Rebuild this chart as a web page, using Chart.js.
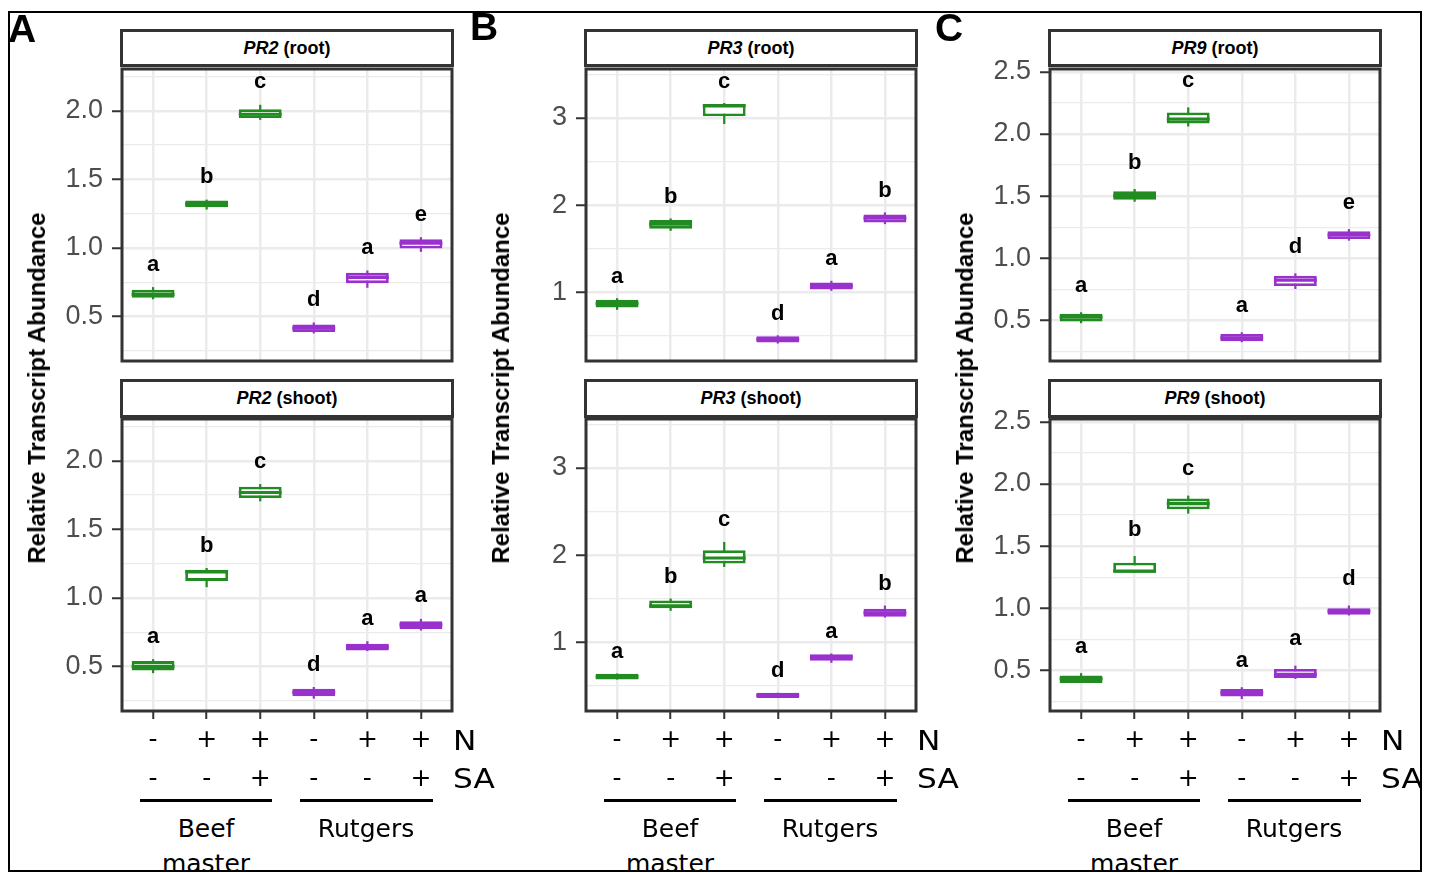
<!DOCTYPE html>
<html>
<head>
<meta charset="utf-8">
<script src="https://cdn.jsdelivr.net/npm/chart.js@4.4.1/dist/chart.umd.min.js"></script>
<style>
  html, body { margin: 0; padding: 0; background: #fff; }
  body { width: 1432px; height: 873px; position: relative; overflow: hidden; font-family: "Liberation Sans", Arial, sans-serif; }
  #fig { position: absolute; left: 0; top: 0; width: 1432px; height: 873px; clip-path: inset(13px 12px 3px 10px); }
  #frame { position: absolute; left: 8px; top: 11px; width: 1414px; height: 861px; border: 2px solid #000; box-sizing: border-box; pointer-events: none; }
  canvas { position: absolute; }
  .strip { position: absolute; box-sizing: border-box; border: 3px solid #333; background: #fff; font-weight: bold; font-size: 18px; text-align: center; color: #000; }
  .letter { position: absolute; font: bold 39px "Liberation Sans", Arial, sans-serif; line-height: 1; }
  .ytitle { position: absolute; font: bold 24px "Liberation Sans", Arial, sans-serif; line-height: 1; white-space: nowrap; transform: translate(-50%, -50%) rotate(-90deg); }
  .ann { position: absolute; font-family: "DejaVu Sans", sans-serif; font-size: 25px; line-height: 1; color: #000; white-space: nowrap; }
  .ctr { transform: translate(-50%, -50%); }
  .lft { transform-origin: 0 50%; transform: translate(0, -50%) scaleX(1.2); font-size: 26px; }
  .rule { position: absolute; height: 3px; background: #000; }
</style>
</head>
<body>
<div id="fig"></div>
<div id="frame"></div>
<script>
// ===============================
// DATA
// ===============================

// treatment levels under each box
const treatmentN  = ["-", "+", "+", "-", "+", "+"];
const treatmentSA = ["-", "-", "+", "-", "-", "+"];

// each row: [lower whisker, Q1, median, Q3, upper whisker]
const pr2Root = [
  [0.625, 0.636, 0.66, 0.694, 0.714],
  [1.28, 1.296, 1.32, 1.345, 1.352],
  [1.934, 1.947, 1.975, 2.012, 2.044],
  [0.376, 0.386, 0.415, 0.442, 0.456],
  [0.709, 0.743, 0.785, 0.818, 0.835],
  [0.971, 0.995, 1.035, 1.063, 1.078]
];
const pr2RootLetters = ["a", "b", "c", "d", "a", "e"];

const pr2Shoot = [
  [0.451, 0.471, 0.50, 0.539, 0.553],
  [1.078, 1.124, 1.19, 1.206, 1.218],
  [1.704, 1.728, 1.769, 1.811, 1.83],
  [0.265, 0.282, 0.311, 0.337, 0.35],
  [0.612, 0.617, 0.641, 0.665, 0.684],
  [0.762, 0.774, 0.803, 0.83, 0.847]
];
const pr2ShootLetters = ["a", "b", "c", "d", "a", "a"];

const pr3Root = [
  [0.801, 0.828, 0.874, 0.916, 0.935],
  [1.707, 1.73, 1.784, 1.83, 1.849],
  [2.931, 3.019, 3.14, 3.161, 3.172],
  [0.415, 0.426, 0.465, 0.499, 0.51],
  [1.019, 1.034, 1.076, 1.115, 1.134],
  [1.784, 1.803, 1.853, 1.895, 1.918]
];
const pr3RootLetters = ["a", "b", "c", "d", "a", "b"];

const pr3Shoot = [
  [0.576, 0.576, 0.607, 0.641, 0.645],
  [1.363, 1.393, 1.42, 1.481, 1.504],
  [1.866, 1.905, 1.969, 2.057, 2.153],
  [0.363, 0.363, 0.393, 0.424, 0.424],
  [0.767, 0.792, 0.836, 0.866, 0.874],
  [1.286, 1.294, 1.34, 1.386, 1.424]
];
const pr3ShootLetters = ["a", "b", "c", "d", "a", "b"];

const pr9Root = [
  [0.479, 0.492, 0.528, 0.554, 0.567],
  [1.456, 1.472, 1.505, 1.539, 1.558],
  [2.061, 2.085, 2.12, 2.173, 2.214],
  [0.326, 0.334, 0.361, 0.393, 0.406],
  [0.754, 0.778, 0.825, 0.861, 0.88],
  [1.143, 1.156, 1.188, 1.218, 1.236]
];
const pr9RootLetters = ["a", "b", "c", "a", "d", "e"];

const pr9Shoot = [
  [0.401, 0.401, 0.433, 0.46, 0.479],
  [1.287, 1.287, 1.30, 1.367, 1.421],
  [1.762, 1.797, 1.842, 1.883, 1.907],
  [0.272, 0.291, 0.323, 0.352, 0.366],
  [0.433, 0.441, 0.47, 0.513, 0.54],
  [0.943, 0.948, 0.978, 1.002, 1.023]
];
const pr9ShootLetters = ["a", "b", "c", "a", "a", "d"];

// y axis ticks
const pr2Major = [0.5, 1.0, 1.5, 2.0];
const pr2Minor = [0.25, 0.75, 1.25, 1.75, 2.25];
const pr3Major = [1, 2, 3];
const pr3Minor = [0.5, 1.5, 2.5, 3.5];
const pr9Major = [0.5, 1.0, 1.5, 2.0, 2.5];
const pr9Minor = [0.25, 0.75, 1.25, 1.75, 2.25];

const boxColors = ["#228b22", "#228b22", "#228b22", "#9932cc", "#9932cc", "#9932cc"];
const groups = [["Beef", "master"], ["Rutgers"]];

// ===============================
// LAYOUT
// ===============================
const fig = document.getElementById("fig");
const PLOT_W = 330, PLOT_H = 292;
const rowTops = [69, 419];

const columns = [
  { tag: "A", gene: "PR2", left: 122, yMin: 0.175, yMax: 2.305, major: pr2Major, minor: pr2Minor, digits: 1, gap: 16.5,
    root: pr2Root, rootLetters: pr2RootLetters, shoot: pr2Shoot, shootLetters: pr2ShootLetters },
  { tag: "B", gene: "PR3", left: 586, yMin: 0.215, yMax: 3.562, major: pr3Major, minor: pr3Minor, digits: 0, gap: 15.5,
    root: pr3Root, rootLetters: pr3RootLetters, shoot: pr3Shoot, shootLetters: pr3ShootLetters },
  { tag: "C", gene: "PR9", left: 1050, yMin: 0.175, yMax: 2.523, major: pr9Major, minor: pr9Minor, digits: 1, gap: 20.5,
    root: pr9Root, rootLetters: pr9RootLetters, shoot: pr9Shoot, shootLetters: pr9ShootLetters }
];

function addDiv(cls, x, y, html) {
  const d = document.createElement("div");
  d.className = cls;
  d.style.left = x + "px";
  d.style.top = y + "px";
  if (html !== undefined) d.innerHTML = html;
  fig.appendChild(d);
  return d;
}

function makePanel(col, isBottom, stats, letters) {
  // padding larger than the half tick-label height so the plot area lands exactly
  const axisW = 90, padT = 30, padR = 5;
  const xAxisH = isBottom ? 90 : 0;
  const padB = isBottom ? 0 : 30;
  const areaTop = rowTops[isBottom ? 1 : 0];

  const canvas = document.createElement("canvas");
  canvas.width = axisW + PLOT_W + padR;
  canvas.height = padT + PLOT_H + xAxisH + padB;
  canvas.style.left = (col.left - axisW) + "px";
  canvas.style.top = (areaTop - padT) + "px";
  fig.appendChild(canvas);

  const yTicks = col.minor.concat(col.major).sort((a, b) => a - b);
  const isMajor = v => col.major.some(m => Math.abs(m - v) < 1e-9);
  const positions = stats.map((_, i) => i + 1);

  // whiskers, medians, panel border and letters
  const boxParts = {
    id: "boxParts",
    beforeDatasetsDraw(chart) {
      const { ctx, scales: { x, y } } = chart;
      ctx.save();
      ctx.lineWidth = 2.2;
      stats.forEach((s, i) => {
        const px = x.getPixelForValue(i + 1);
        ctx.strokeStyle = boxColors[i];
        ctx.beginPath();
        ctx.moveTo(px, y.getPixelForValue(s[0]));
        ctx.lineTo(px, y.getPixelForValue(s[4]));
        ctx.stroke();
      });
      ctx.restore();
    },
    afterDatasetsDraw(chart) {
      const { ctx, scales: { y } } = chart;
      const meta = chart.getDatasetMeta(0);
      ctx.save();
      ctx.lineWidth = 3.2;
      stats.forEach((s, i) => {
        const el = meta.data[i];
        const py = y.getPixelForValue(s[2]);
        ctx.strokeStyle = boxColors[i];
        ctx.beginPath();
        ctx.moveTo(el.x - el.width / 2, py);
        ctx.lineTo(el.x + el.width / 2, py);
        ctx.stroke();
      });
      ctx.restore();
    },
    afterDraw(chart) {
      const { ctx, chartArea: a, scales: { x, y } } = chart;
      ctx.save();
      ctx.strokeStyle = "#333";
      ctx.lineWidth = 3;
      ctx.strokeRect(a.left, a.top, a.width, a.height);
      ctx.fillStyle = "#000";
      ctx.font = 'bold 22px "Liberation Sans", Arial, sans-serif';
      ctx.textAlign = "center";
      ctx.textBaseline = "alphabetic";
      stats.forEach((s, i) => {
        ctx.fillText(letters[i], x.getPixelForValue(i + 1), y.getPixelForValue(s[4]) - col.gap);
      });
      ctx.restore();
    }
  };

  new Chart(canvas, {
    type: "bar",
    data: {
      datasets: [{
        data: stats.map((s, i) => ({ x: i + 1, y: [s[1], s[3]] })),
        backgroundColor: "#ffffff",
        borderColor: boxColors,
        borderWidth: 2.8,
        borderSkipped: false,
        barPercentage: 0.8,
        categoryPercentage: 1
      }]
    },
    options: {
      responsive: false,
      animation: false,
      events: [],
      layout: { padding: { left: 0, right: padR, top: padT, bottom: padB } },
      plugins: { legend: { display: false }, tooltip: { enabled: false } },
      scales: {
        x: {
          type: "linear",
          min: 0.42,
          max: 6.58,
          offset: false,
          afterBuildTicks: s => { s.ticks = positions.map(v => ({ value: v })); },
          afterFit: s => { s.height = xAxisH; },
          border: { display: false },
          grid: { offset: false, color: "#ebebeb", lineWidth: 2.5, drawTicks: isBottom, tickLength: 8, tickColor: "#333", tickWidth: 2 },
          ticks: {
            display: isBottom,
            autoSkip: false,
            maxRotation: 0,
            padding: 2,
            color: "#000",
            font: { family: "DejaVu Sans", size: 25, lineHeight: "39px" },
            callback: v => [treatmentN[v - 1], treatmentSA[v - 1]]
          }
        },
        y: {
          min: col.yMin,
          max: col.yMax,
          afterBuildTicks: s => { s.ticks = yTicks.map(v => ({ value: v })); },
          afterFit: s => { s.width = axisW; },
          border: { display: false },
          grid: {
            color: "#ebebeb",
            lineWidth: c => isMajor(c.tick.value) ? 2.5 : 1.3,
            tickLength: 10,
            tickWidth: 2,
            tickColor: c => isMajor(c.tick.value) ? "#333" : "rgba(0,0,0,0)"
          },
          ticks: {
            autoSkip: false,
            padding: 9,
            color: "#4d4d4d",
            font: { family: "Liberation Sans", size: 27 },
            callback: v => isMajor(v) ? v.toFixed(col.digits) : ""
          }
        }
      }
    },
    plugins: [boxParts]
  });
}

columns.forEach((col, c) => {
  const dx = 464 * c;

  makePanel(col, false, col.root, col.rootLetters);
  makePanel(col, true, col.shoot, col.shootLetters);

  // facet strips
  const s1 = addDiv("strip", col.left - 2, 29, "<i>" + col.gene + "</i> (root)");
  s1.style.width = (PLOT_W + 4) + "px"; s1.style.height = "38px"; s1.style.lineHeight = "32px";
  const s2 = addDiv("strip", col.left - 2, 379, "<i>" + col.gene + "</i> (shoot)");
  s2.style.width = (PLOT_W + 4) + "px"; s2.style.height = "39px"; s2.style.lineHeight = "33px";

  // panel tag and axis title
  const tagPos = [[8, 9], [470, 7], [935, 8]];
  addDiv("letter", tagPos[c][0], tagPos[c][1], col.tag);
  addDiv("ytitle", 37 + dx, 388, "Relative Transcript Abundance");

  // treatment row names
  addDiv("ann lft", 453 + dx, 741, "N");
  addDiv("ann lft", 453 + dx, 779, "SA");

  // cultivar brackets
  const r1 = addDiv("rule", 140 + dx, 799); r1.style.width = "132px";
  const r2 = addDiv("rule", 300 + dx, 799); r2.style.width = "133px";
  addDiv("ann ctr", 206 + dx, 828, groups[0][0]);
  addDiv("ann ctr", 206 + dx, 863, groups[0][1]);
  addDiv("ann ctr", 366 + dx, 828, groups[1][0]);
});
</script>
</body>
</html>
